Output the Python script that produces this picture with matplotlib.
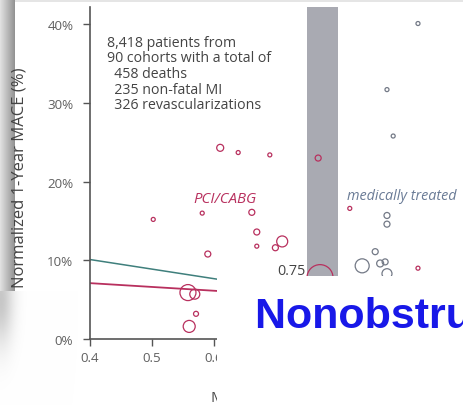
import numpy as np
import matplotlib.pyplot as plt
from matplotlib.patches import Rectangle

plt.rcParams['font.family'] = ['Open Sans', 'DejaVu Sans']

# cohorts treated with PCI/CABG: mean FFR, normalized 1-year MACE (%), patients
pci_ffr = [0.502, 0.610, 0.639, 0.690, 0.768, 0.819, 0.581, 0.661, 0.669, 0.669,
           0.710, 0.699, 0.590, 0.771, 0.558, 0.569, 0.571, 0.560, 0.929]
pci_mace = [15.2, 24.3, 23.7, 23.4, 23.0, 16.6, 16.0, 16.1, 13.6, 11.8,
            12.4, 11.6, 10.8, 7.8, 5.9, 5.7, 3.2, 1.6, 9.0]
pci_patients = [20, 61, 20, 20, 45, 20, 20, 45, 45, 20,
                151, 45, 45, 845, 320, 125, 31, 180, 20]

# medically treated cohorts
med_ffr = [0.929, 0.879, 0.889, 0.879, 0.879, 0.860, 0.839, 0.868, 0.876, 0.879]
med_mace = [40.1, 31.7, 25.8, 15.7, 14.6, 11.1, 9.3, 9.6, 9.8, 8.3]
med_patients = [20, 20, 20, 45, 45, 45, 245, 61, 45, 125]

# meta-regression fits evaluated at the ends of the FFR range
fit_ffr = [0.4, 1.0]
pci_fit = [7.1, 4.2]
med_fit = [10.1, 2.8]

gray_zone = (0.75, 0.80)
yticks = [0, 10, 20, 30, 40]
xticks = [0.4, 0.5, 0.6, 0.7, 0.8, 0.9]
summary = ['8,418 patients from', '90 cohorts with a total of',
           '  458 deaths', '  235 non-fatal MI', '  326 revascularizations']

red = '#b8305e'
slate = '#737986'
teal = '#3f7f7c'
txt = '#444444'

W, H = 463, 406
fig = plt.figure(figsize=(W / 100, H / 100), dpi=100)

# slide frame shading behind everything
bg = fig.add_axes([0, 0, 1, 1], zorder=-5)
yy, xx = np.mgrid[0:H, 0:W]
g = np.ones((H, W))
upper = (yy < 292) & (xx <= 14)
g[upper] = 0.88 - 0.30 * (xx[upper] / 14.0)
lower = yy >= 292
g[lower] = 1 - 0.22 * np.exp(-(xx[lower] / 13.0) ** 2) * np.exp(-((yy[lower] - 300) / 45.0) ** 2)
g[:3, :] = np.minimum(g[:3, :], 0.9)
bg.imshow(np.dstack([g, g, g]), extent=(0, W, H, 0), aspect='auto', interpolation='bilinear')
bg.set_axis_off()

ax = fig.add_axes([90 / W, 66 / H, 372 / W, 332 / H])
ax.set_xlim(0.4, 1.0)
ax.set_ylim(0, 42.2)

ax.axvspan(*gray_zone, color='#a9aab2', lw=0, zorder=0)

ax.plot(fit_ffr, med_fit, color=teal, lw=1.1, zorder=2)
ax.plot(fit_ffr, pci_fit, color=red, lw=1.3, zorder=2)

ax.scatter(pci_ffr, pci_mace, s=np.array(pci_patients) * 0.415, facecolors='none',
           edgecolors=red, linewidths=0.9, zorder=3)
ax.scatter(med_ffr, med_mace, s=np.array(med_patients) * 0.415, facecolors='none',
           edgecolors=slate, linewidths=0.9, zorder=3)

ax.text(0.427, 38.7, '\n'.join(summary), fontsize=10.2, color=txt,
        va='top', ha='left', linespacing=1.06)
ax.text(0.618, 17.8, 'PCI/CABG', fontsize=10.8, color=red, style='italic',
        ha='center', va='center')
ax.text(0.815, 18.2, 'medically treated', fontsize=10.4, color='#6a7b96',
        style='italic', ha='left', va='center')
ax.text(0.747, 8.7, str(gray_zone[0]), fontsize=10.4, color=txt, ha='right', va='center')

ax.set_yticks(yticks)
ax.set_yticklabels([f'{t}%' for t in yticks])
ax.set_xticks(xticks)
ax.set_xticklabels([f'{t:.1f}' for t in xticks])
ax.tick_params(axis='both', direction='out', length=5, width=1, color='#555555',
               labelcolor='#606060', labelsize=9.6)
ax.tick_params(axis='y', pad=7)
ax.tick_params(axis='x', pad=4)
for side in ['top', 'right']:
    ax.spines[side].set_visible(False)
for side in ['left', 'bottom']:
    ax.spines[side].set_color('#555555')
    ax.spines[side].set_linewidth(1.2)

ax.set_ylabel('Normalized 1-Year MACE (%)', fontsize=12, color=txt)
ax.yaxis.set_label_coords(-0.167, 0.488)
ax.set_xlabel('Mean FFR', fontsize=11, color=txt, ha='left', va='top')
ax.xaxis.set_label_coords(0.325, -0.155)

# white slide panel laid over the lower right of the chart
fig.patches.append(Rectangle((217 / W, 0), 1, 129 / H, transform=fig.transFigure,
                             facecolor='white', edgecolor='none', zorder=10))
fig.text(255 / W, (H - 328) / H, 'Nonobstructive CAD', fontsize=31,
         fontweight='bold', color='#1818e8', family='Liberation Sans',
         ha='left', va='baseline', zorder=11)

fig.savefig('out.png', dpi=100)
